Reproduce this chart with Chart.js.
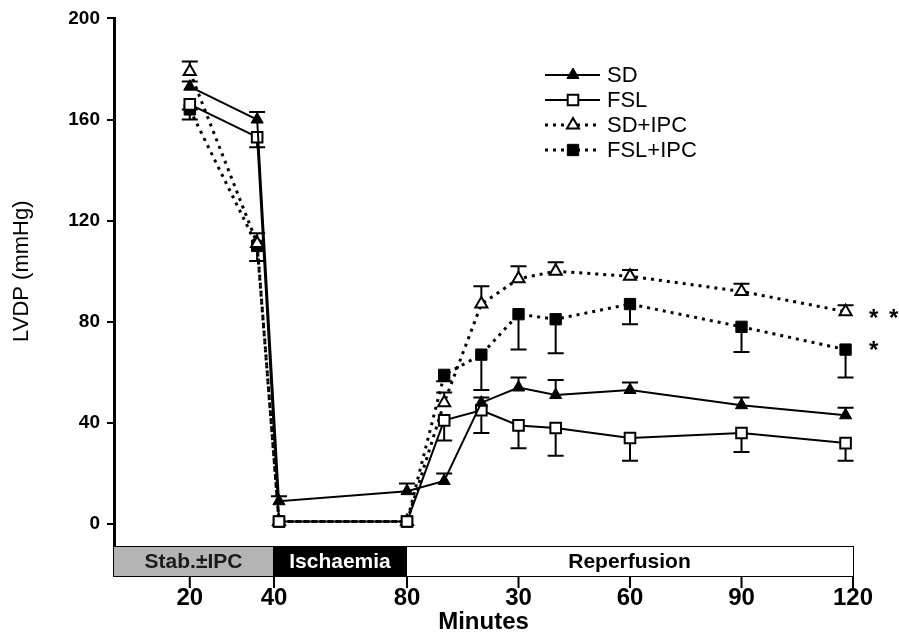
<!DOCTYPE html>
<html>
<head>
<meta charset="utf-8">
<title>LVDP</title>
<script src="https://cdn.jsdelivr.net/npm/chart.js@4.4.1/dist/chart.umd.min.js"></script>
<style>
  html, body { margin: 0; padding: 0; background: #fff; }
</style>
</head>
<body>
<canvas id="lvdpChart" width="899" height="639"></canvas>
<script>
// protocol time in minutes: stabilisation up to 40, ischaemia 40-80, reperfusion 80-200
const minutes = [20, 36, 41.5, 80, 90, 100, 110, 120, 140, 170, 198];

const sd        = [173, 160, 9, 13, 17, 48, 54, 51, 53, 47, 43];
const sdErr     = [2, 3, 2, 3, 3, 2, 4, 6, 3, 3, 3];
const fsl       = [166, 153, 1, 1, 41, 45, 39, 38, 34, 36, 32];
const fslErr    = [2, 4, 0, 0, 8, 9, 9, 11, 9, 7.5, 7];
const sdIpc     = [179, 111, 1, 1, 48, 87, 97, 100, 98, 92, 84];
const sdIpcErr  = [4, 4, 0, 0, 4, 7, 5, 3.5, 2.5, 3, 2.5];
const fslIpc    = [164, 110, 1, 1, 59, 67, 83, 81, 87, 78, 69];
const fslIpcErr = [4, 6, 0, 0, 2.5, 14, 14, 13.5, 8, 10, 11];

const xTickValues = [20, 40, 80, 110, 140, 170, 200];
const xTickLabels = ['20', '40', '80', '30', '60', '90', '120'];
const yTickValues = [0, 40, 80, 120, 160, 200];

const phases = [
    { label: 'Stab.±IPC', from: 2, to: 40 },
    { label: 'Ischaemia', from: 40, to: 80 },
    { label: 'Reperfusion', from: 80, to: 200 }
];
const significance = { 'SD+IPC': '**', 'FSL+IPC': '*' };

const FONT = "'Liberation Sans', Arial, sans-serif";

// x axis is drawn in three stretches (stabilisation / ischaemia / reperfusion)
const stopValues = [2, 40, 80, 200];
const stopFractions = [0, 0.2165, 0.3965, 1];

class StageScale extends Chart.LinearScale {
    getPixelForValue(value) {
        if (value === null || value === undefined) return NaN;
        let i = 1;
        while (i < stopValues.length - 1 && value > stopValues[i]) i++;
        const a = stopValues[i - 1], b = stopValues[i];
        const fa = stopFractions[i - 1], fb = stopFractions[i];
        return this.getPixelForDecimal(fa + (value - a) / (b - a) * (fb - fa));
    }
    getValueForPixel(pixel) {
        const d = this.getDecimalForPixel(pixel);
        let i = 1;
        while (i < stopFractions.length - 1 && d > stopFractions[i]) i++;
        const a = stopValues[i - 1], b = stopValues[i];
        const fa = stopFractions[i - 1], fb = stopFractions[i];
        return a + (d - fa) / (fb - fa) * (b - a);
    }
}
StageScale.id = 'stage';
StageScale.defaults = Chart.LinearScale.defaults;
Chart.register(StageScale);

function points(values) {
    return values.map((v, i) => ({ x: minutes[i], y: v }));
}

const errorBars = {
    id: 'errorBars',
    beforeDatasetsDraw(chart) {
        const { ctx, scales: { x, y } } = chart;
        ctx.save();
        ctx.strokeStyle = '#000';
        ctx.lineWidth = 2;
        chart.data.datasets.forEach(ds => {
            ds.errors.forEach((e, i) => {
                if (!e) return;
                const px = x.getPixelForValue(ds.data[i].x);
                const y0 = y.getPixelForValue(ds.data[i].y);
                const y1 = y.getPixelForValue(ds.data[i].y + ds.errorDir * e);
                ctx.beginPath();
                ctx.moveTo(px, y0);
                ctx.lineTo(px, y1);
                ctx.moveTo(px - 8, y1);
                ctx.lineTo(px + 8, y1);
                ctx.stroke();
            });
        });
        ctx.restore();
    }
};

const extras = {
    id: 'extras',
    afterDraw(chart) {
        const { ctx, chartArea, scales: { x, y } } = chart;
        ctx.save();

        // protocol band under the plot
        const top = chartArea.bottom;
        const h = 30;
        const fills = ['#b4b4b4', '#000000', '#ffffff'];
        const inks = ['#1a1a1a', '#ffffff', '#000000'];
        phases.forEach((p, i) => {
            const x0 = x.getPixelForValue(p.from) - 1;
            const x1 = x.getPixelForValue(p.to);
            ctx.fillStyle = fills[i];
            ctx.fillRect(x0, top, x1 - x0, h);
            ctx.strokeStyle = '#000';
            ctx.lineWidth = 1;
            ctx.strokeRect(x0 + 0.5, top + 0.5, x1 - x0, h);
            ctx.fillStyle = inks[i];
            ctx.font = 'bold 21px ' + FONT;
            ctx.textAlign = 'center';
            ctx.textBaseline = 'middle';
            ctx.fillText(p.label, (x0 + x1) / 2, top + h / 2 + 1);
        });

        // x tick marks below the band
        ctx.strokeStyle = '#000';
        ctx.lineWidth = 2;
        xTickValues.forEach(v => {
            const px = x.getPixelForValue(v);
            ctx.beginPath();
            ctx.moveTo(px, top + h);
            ctx.lineTo(px, top + h + 12);
            ctx.stroke();
        });

        // y axis title
        ctx.save();
        ctx.translate(22, (y.getPixelForValue(0) + y.getPixelForValue(200)) / 2);
        ctx.rotate(-Math.PI / 2);
        ctx.fillStyle = '#000';
        ctx.font = '22px ' + FONT;
        ctx.textAlign = 'center';
        ctx.textBaseline = 'middle';
        ctx.fillText('LVDP (mmHg)', 0, 0);
        ctx.restore();

        // legend
        chart.data.datasets.forEach((ds, i) => {
            const ly = 75 + i * 25;
            ctx.strokeStyle = '#000';
            ctx.lineWidth = ds.borderWidth;
            ctx.setLineDash(ds.borderDash || []);
            ctx.beginPath();
            ctx.moveTo(545, ly);
            ctx.lineTo(600, ly);
            ctx.stroke();
            ctx.setLineDash([]);
            ctx.fillStyle = ds.pointBackgroundColor;
            ctx.strokeStyle = ds.pointBorderColor;
            ctx.lineWidth = ds.pointBorderWidth;
            Chart.helpers.drawPoint(ctx, {
                pointStyle: ds.pointStyle, radius: ds.pointRadius,
                borderWidth: ds.pointBorderWidth, rotation: 0
            }, 573, ly);
            ctx.fillStyle = '#000';
            ctx.font = '22px ' + FONT;
            ctx.textAlign = 'left';
            ctx.textBaseline = 'middle';
            ctx.fillText(ds.label, 607, ly + 1);
        });

        // significance marks after the last points
        ctx.fillStyle = '#000';
        ctx.font = 'bold 24px ' + FONT;
        ctx.textAlign = 'center';
        ctx.textBaseline = 'alphabetic';
        chart.data.datasets.forEach(ds => {
            const mark = significance[ds.label];
            if (!mark) return;
            const last = ds.data[ds.data.length - 1];
            const px = x.getPixelForValue(last.x) + 28;
            const py = y.getPixelForValue(last.y) - (mark.length === 1 ? 6 : 0);
            for (let k = 0; k < mark.length; k++) {
                ctx.fillText('*', px + k * 20, py + 14);
            }
        });

        ctx.restore();
    }
};

new Chart(document.getElementById('lvdpChart'), {
    type: 'line',
    data: {
        datasets: [{
            label: 'SD',
            data: points(sd),
            errors: sdErr,
            errorDir: 1,
            borderColor: '#000',
            borderWidth: 2,
            pointStyle: 'triangle',
            pointRadius: 7,
            pointBackgroundColor: '#000',
            pointBorderColor: '#000',
            pointBorderWidth: 1
        }, {
            label: 'FSL',
            data: points(fsl),
            errors: fslErr,
            errorDir: -1,
            borderColor: '#000',
            borderWidth: 2,
            pointStyle: 'rect',
            pointRadius: 7.5,
            pointBackgroundColor: '#fff',
            pointBorderColor: '#000',
            pointBorderWidth: 2
        }, {
            label: 'SD+IPC',
            data: points(sdIpc),
            errors: sdIpcErr,
            errorDir: 1,
            borderColor: '#000',
            borderWidth: 3,
            borderDash: [3, 5],
            pointStyle: 'triangle',
            pointRadius: 7,
            pointBackgroundColor: '#fff',
            pointBorderColor: '#000',
            pointBorderWidth: 2
        }, {
            label: 'FSL+IPC',
            data: points(fslIpc),
            errors: fslIpcErr,
            errorDir: -1,
            borderColor: '#000',
            borderWidth: 3,
            borderDash: [3, 5],
            pointStyle: 'rect',
            pointRadius: 8,
            pointBackgroundColor: '#000',
            pointBorderColor: '#000',
            pointBorderWidth: 1
        }]
    },
    options: {
        responsive: false,
        animation: false,
        devicePixelRatio: 1,
        events: [],
        layout: {
            padding: { top: 18, right: 46, bottom: 0, left: 0 }
        },
        plugins: {
            legend: { display: false },
            tooltip: { enabled: false }
        },
        scales: {
            x: {
                type: 'stage',
                min: 2,
                max: 200,
                afterBuildTicks: s => { s.ticks = xTickValues.map(v => ({ value: v })); },
                afterFit: s => {
                    s.height = 93;
                    s.paddingLeft = 0;
                    s.paddingRight = 0;
                },
                grid: { display: false, drawTicks: false },
                border: { display: false },
                ticks: {
                    autoSkip: false,
                    maxRotation: 0,
                    padding: 38,
                    color: '#000',
                    font: { family: FONT, size: 24, weight: 'bold' },
                    callback: v => xTickLabels[xTickValues.indexOf(v)]
                },
                title: {
                    display: true,
                    text: 'Minutes',
                    color: '#000',
                    font: { family: FONT, size: 24, weight: 'bold' },
                    padding: { top: 0, bottom: 2 }
                }
            },
            y: {
                min: -8.7,
                max: 200,
                afterBuildTicks: s => { s.ticks = yTickValues.map(v => ({ value: v })); },
                afterFit: s => { s.width = 114; },
                grid: { drawOnChartArea: false, tickLength: 7, color: '#000', lineWidth: 2 },
                border: { color: '#000', width: 3 },
                ticks: {
                    padding: 7,
                    color: '#000',
                    font: { family: FONT, size: 19, weight: 'bold' }
                }
            }
        }
    },
    plugins: [errorBars, extras]
});
</script>
</body>
</html>
